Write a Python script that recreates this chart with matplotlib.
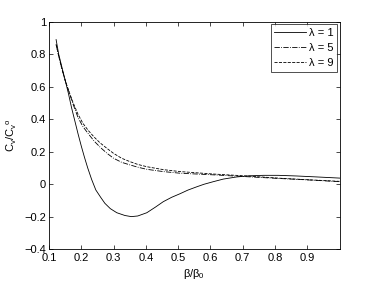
import matplotlib
matplotlib.use('Agg')
import matplotlib.pyplot as plt
import numpy as np

# curves
x_l1 = [0.122, 0.13, 0.14, 0.15, 0.16, 0.17, 0.18, 0.19, 0.2, 0.21, 0.22, 0.232,
        0.245, 0.26, 0.273, 0.29, 0.31, 0.335, 0.355, 0.375, 0.403, 0.43, 0.454,
        0.48, 0.506, 0.53, 0.557, 0.58, 0.609, 0.64, 0.681, 0.72, 0.764, 0.81,
        0.867, 0.93, 1.0]
y_l1 = [0.89, 0.80, 0.72, 0.64, 0.56, 0.47, 0.39, 0.31, 0.235, 0.165, 0.10, 0.03,
        -0.035, -0.08, -0.117, -0.15, -0.175, -0.192, -0.199, -0.195, -0.175, -0.14,
        -0.107, -0.08, -0.058, -0.036, -0.016, 0.0, 0.016, 0.032, 0.045, 0.052, 0.055,
        0.055, 0.051, 0.045, 0.038]

x_l5 = [0.122, 0.13, 0.14, 0.15, 0.16, 0.175, 0.19, 0.205, 0.222, 0.24, 0.26, 0.28,
        0.3, 0.325, 0.351, 0.375, 0.403, 0.454, 0.506, 0.609, 0.7, 0.8, 0.9, 1.0]
y_l5 = [0.86, 0.79, 0.71, 0.64, 0.58, 0.49, 0.41, 0.355, 0.31, 0.265, 0.225, 0.19,
        0.16, 0.135, 0.119, 0.105, 0.092, 0.078, 0.068, 0.058, 0.048, 0.037, 0.027,
        0.016]

x_l9 = [0.122, 0.13, 0.14, 0.15, 0.16, 0.175, 0.19, 0.205, 0.222, 0.24, 0.258, 0.28,
        0.3, 0.325, 0.351, 0.375, 0.403, 0.454, 0.506, 0.609, 0.712, 0.816, 0.9, 1.0]
y_l9 = [0.86, 0.79, 0.71, 0.64, 0.58, 0.50, 0.43, 0.375, 0.33, 0.29, 0.255, 0.22,
        0.19, 0.16, 0.139, 0.122, 0.108, 0.09, 0.078, 0.063, 0.051, 0.037, 0.028,
        0.018]

labels = ['λ = 1', 'λ = 5', 'λ = 9']

plt.rcParams['font.family'] = ['Liberation Sans', 'DejaVu Sans']
plt.rcParams['mathtext.fontset'] = 'custom'
plt.rcParams['mathtext.rm'] = 'Liberation Sans'
plt.rcParams['font.size'] = 8

fig = plt.figure(figsize=(3.74, 2.81), dpi=100)
ax = fig.add_axes([0.131, 0.1128, 0.777, 0.81])

lw = 0.6
ax.plot(x_l1, y_l1, color='k', linestyle='-', linewidth=lw, label=labels[0])
ax.plot(x_l5, y_l5, color='k', linestyle='-.', linewidth=lw, label=labels[1])
ax.plot(x_l9, y_l9, color='k', linestyle='--', linewidth=lw, label=labels[2])

ax.set_xlim(0.1, 1.0)
ax.set_ylim(-0.4, 1.0)
ax.set_xticks(np.arange(0.1, 0.95, 0.1))
ax.set_xticklabels(['0.1', '0.2', '0.3', '0.4', '0.5', '0.6', '0.7', '0.8', '0.9'])
ax.set_yticks([-0.4, -0.2, 0, 0.2, 0.4, 0.6, 0.8, 1])
ax.set_yticklabels(['−0.4', '−0.2', '0', '0.2', '0.4', '0.6', '0.8', '1'])
ax.tick_params(direction='in', top=True, right=True, length=3, width=0.5, pad=2)
ax.tick_params(axis='x', pad=3)
for s in ax.spines.values():
    s.set_linewidth(0.6)

ax.set_xlabel(r'β/β$_\mathrm{0}$', labelpad=2.5)
ax.set_ylabel(r'C$_\mathrm{v}$/C$_\mathrm{v}$$^\mathrm{o}$', labelpad=4)

leg = ax.legend(loc='upper right', fancybox=False, edgecolor='k',
                borderaxespad=0.2, handlelength=2.8, labelspacing=0.45,
                borderpad=0.35, handletextpad=0.3)
leg.get_frame().set_linewidth(0.6)

fig.savefig('out.png', dpi=100)
